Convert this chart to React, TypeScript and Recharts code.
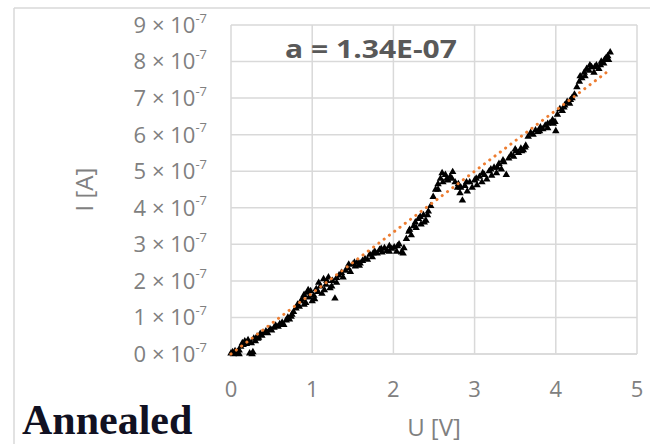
import React from "react";
import { CartesianGrid, Label, Scatter, ScatterChart, Symbols, XAxis, YAxis } from "recharts";

// U [V] and I [units of 1e-7 A]
const voltage = [
  0.0, 0.02, 0.03, 0.05, 0.06, 0.08, 0.1, 0.12, 0.14, 0.15, 0.17, 0.19, 0.21, 0.23, 0.25, 0.27, 0.28, 0.3, 0.32,
  0.34, 0.36, 0.38, 0.4, 0.43, 0.45, 0.48, 0.5, 0.53, 0.55, 0.58, 0.6, 0.63, 0.65, 0.68, 0.7, 0.72, 0.75, 0.77,
  0.8, 0.82, 0.84, 0.86, 0.88, 0.9, 0.92, 0.94, 0.96, 0.98, 1.0, 1.02, 1.05, 1.07, 1.1, 1.12, 1.14, 1.17, 1.2,
  1.22, 1.25, 1.28, 1.3, 1.33, 1.36, 1.38, 1.41, 1.44, 1.47, 1.5, 1.53, 1.56, 1.59, 1.62, 1.65, 1.68, 1.71, 1.74,
  1.77, 1.8, 1.83, 1.86, 1.89, 1.92, 1.95, 1.98, 2.01, 2.04, 2.07, 2.1, 2.13, 2.16, 2.19, 2.22, 2.25, 2.28, 2.31,
  2.34, 2.37, 2.4, 2.43, 2.46, 2.49, 2.52, 2.55, 2.58, 2.61, 2.64, 2.67, 2.7, 2.73, 2.76, 2.79, 2.82, 2.85, 2.88,
  2.91, 2.94, 2.97, 3.0, 3.03, 3.06, 3.09, 3.12, 3.15, 3.18, 3.21, 3.24, 3.27, 3.3, 3.33, 3.36, 3.39, 3.42, 3.45,
  3.48, 3.51, 3.54, 3.57, 3.6, 3.63, 3.66, 3.69, 3.72, 3.75, 3.78, 3.81, 3.84, 3.87, 3.9, 3.93, 3.96, 3.99, 4.02,
  4.05, 4.08, 4.11, 4.14, 4.17, 4.2, 4.23, 4.26, 4.29, 4.32, 4.35, 4.38, 4.41, 4.44, 4.47, 4.5, 4.53, 4.56, 4.59,
  4.62, 4.65, 4.67,
  // second sweep, scattered around the first
  0.9, 0.95, 1.03, 1.08, 1.15, 1.18, 1.24, 1.3, 1.45, 1.52, 1.58, 1.75, 1.85, 1.95, 2.05, 2.12, 2.2, 2.27, 2.33,
  2.38, 2.42, 2.55, 2.6, 2.66, 2.72, 2.8, 2.83, 2.9, 3.02, 3.1, 3.2, 3.28, 3.35, 3.5, 3.58, 3.62, 3.8, 3.9, 3.97,
  4.0, 4.1, 4.18, 4.3, 4.36, 4.42, 4.48, 4.55, 4.6, 4.64, 0.2, 0.1, 0.26, 0.33, 0.62, 0.74,
];
const currentE7 = [
  0.02, 0.05, 0.0, 0.08, 0.02, 0.05, 0.1, 0.2, 0.3, 0.25, 0.35, 0.28, 0.38, 0.02, 0.3, 0.05, 0.42, 0.35, 0.48,
  0.45, 0.55, 0.5, 0.58, 0.62, 0.57, 0.68, 0.65, 0.72, 0.78, 0.75, 0.82, 0.86, 0.8, 0.92, 1.0, 0.95, 1.08, 1.15,
  1.25, 1.35, 1.3, 1.45, 1.5, 1.62, 1.4, 1.68, 1.55, 1.72, 1.45, 1.6, 1.78, 1.7, 1.85, 1.65, 2.05, 1.9, 2.1,
  1.8, 2.0, 1.52, 2.08, 2.15, 2.22, 2.1, 2.28, 2.35, 2.25, 2.45, 2.4, 2.52, 2.48, 2.55, 2.6, 2.58, 2.72, 2.65,
  2.8, 2.75, 2.85, 2.78, 2.9, 2.82, 2.95, 2.88, 2.92, 2.8, 3.0, 2.78, 2.9, 3.15, 3.35, 3.25, 3.5, 3.45, 3.7,
  3.55, 3.8, 3.65, 3.9, 4.05, 4.3, 4.5, 4.65, 4.8, 4.7, 4.9, 4.75, 4.85, 4.98, 4.7, 4.55, 4.4, 4.2, 4.6,
  4.45, 4.7, 4.55, 4.75, 4.62, 4.85, 4.7, 4.9, 4.78, 5.0, 4.88, 5.1, 4.95, 5.2, 5.05, 5.25, 4.9, 5.35, 5.45,
  5.4, 5.55, 5.5, 5.62, 5.58, 5.7, 5.95, 6.05, 6.0, 6.12, 6.08, 6.2, 6.15, 6.25, 6.18, 6.32, 6.4, 6.35, 6.55,
  6.7, 6.65, 6.8, 6.9, 6.85, 7.0, 7.1, 7.3, 7.45, 7.55, 7.7, 7.8, 7.75, 7.85, 7.7, 7.9, 7.8, 8.0, 7.95,
  8.1, 8.05, 8.25,
  1.35, 1.75, 1.5, 1.95, 1.75, 2.0, 1.85, 1.95, 2.45, 2.5, 2.42, 2.75, 2.88, 2.8, 2.95, 2.75, 3.4, 3.6, 3.75,
  3.6, 3.8, 4.5, 4.95, 4.8, 4.8, 4.65, 4.55, 4.7, 4.8, 4.95, 5.05, 5.1, 5.3, 5.6, 5.55, 5.65, 6.1, 6.3, 6.3,
  6.1, 6.75, 6.95, 7.6, 7.6, 7.9, 7.85, 7.9, 8.05, 8.15, 0.32, 0.0, 0.0, 0.42, 0.8, 1.02,
];

// linear trendline endpoints
const trendVoltage = [0, 4.67];
const trendCurrentE7 = [0, 7.78];

const xTicks = [0, 1, 2, 3, 4, 5];
const yTicks = [0, 1, 2, 3, 4, 5, 6, 7, 8, 9];

const fitLabel = "a = 1.34E-07";
const sampleLabel = "Annealed";

const measured = voltage.map((u, k) => ({ u, i: currentE7[k] }));
const trend = trendVoltage.map((u, k) => ({ u, i: trendCurrentE7[k] }));

const GRID = "#d9d9d9";
const TICK = "#808080";
const FONT = "'Open Sans', sans-serif";

const XTick = ({ x, y, payload }: any) => (
  <text x={x} y={y} dy={35} textAnchor="middle" fill={TICK} fontSize={22} fontFamily={FONT}>
    {payload.value}
  </text>
);

const YTick = ({ x, y, payload }: any) => (
  <text x={x} y={y} textAnchor="end" fill={TICK} fontSize={22} fontFamily={FONT}>
    <tspan dy="0.36em">{payload.value} × 10</tspan>
    <tspan dy="-0.8em" fontSize={13}>
      -7
    </tspan>
  </text>
);

// small filled triangle marker, like the spreadsheet default
const Tri = (p: any) => <Symbols cx={p.cx} cy={p.cy} type="triangle" size={24} fill="#000" />;

export default function App() {
  return (
    <div style={{ position: "absolute", left: 0, top: 0, width: 650, height: 444, background: "#fff" }}>
      <ScatterChart width={650} height={444} margin={{ top: 25, right: 13, left: 0, bottom: 6 }}>
        <CartesianGrid stroke={GRID} strokeWidth={1.5} />
        <XAxis
          type="number"
          dataKey="u"
          domain={[0, 5]}
          ticks={xTicks}
          height={84}
          tickLine={false}
          axisLine={{ stroke: GRID, strokeWidth: 1.5 }}
          tick={<XTick />}
        >
          <Label value="U [V]" position="insideBottom" offset={2} fill={TICK} fontSize={24} fontFamily={FONT} />
        </XAxis>
        <YAxis
          type="number"
          dataKey="i"
          domain={[0, 9]}
          ticks={yTicks}
          width={231}
          tickLine={false}
          axisLine={false}
          tickMargin={18}
          tick={<YTick />}
        >
          <Label
            content={(props: any) => {
              const vb = props.viewBox;
              const cx = vb.x + 83;
              const cy = vb.y + vb.height / 2;
              return (
                <text
                  x={cx}
                  y={cy}
                  transform={`rotate(-90, ${cx}, ${cy})`}
                  textAnchor="middle"
                  dominantBaseline="central"
                  fill={TICK}
                  fontSize={24}
                  fontFamily={FONT}
                >
                  I [A]
                </text>
              );
            }}
          />
        </YAxis>
        <Scatter data={measured} fill="#000" shape={Tri} isAnimationActive={false} />
        <Scatter
          data={trend}
          line={{ stroke: "#ED7D31", strokeWidth: 3, strokeDasharray: "0.1 6.5", strokeLinecap: "round" }}
          shape={() => <g />}
          isAnimationActive={false}
        />
      </ScatterChart>
      <svg width={650} height={444} style={{ position: "absolute", left: 0, top: 0, pointerEvents: "none" }}>
        <line x1={14} y1={8} x2={650} y2={8} stroke={GRID} strokeWidth={1.5} />
        <line x1={14} y1={8} x2={14} y2={444} stroke={GRID} strokeWidth={1.5} />
        <text
          x={285}
          y={58}
          fill="#595959"
          fontSize={25}
          fontWeight={700}
          fontFamily={FONT}
          textLength={172}
          lengthAdjust="spacingAndGlyphs"
        >
          {fitLabel}
        </text>
        <text x={22} y={434} fill="#111122" fontSize={42} fontWeight={700} fontFamily="'Liberation Serif', serif">
          {sampleLabel}
        </text>
      </svg>
    </div>
  );
}
